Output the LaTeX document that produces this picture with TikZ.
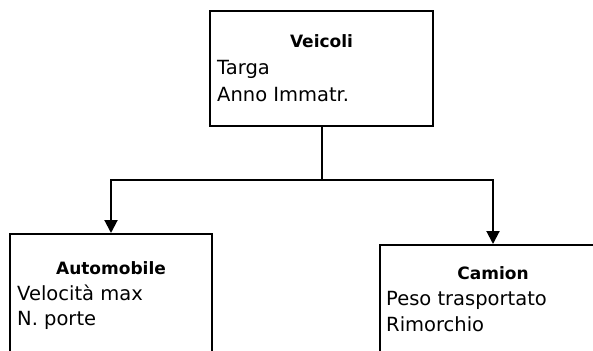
\documentclass[tikz,border=0pt]{standalone}
\usepackage{fontspec}
\setmainfont{DejaVu Sans}
\usetikzlibrary{arrows.meta}
\tikzset{
  box/.style={draw, line width=2pt, rectangle, inner sep=0pt, anchor=north west},
  title/.style={font=\fontsize{17}{20}\selectfont\bfseries, anchor=base, inner sep=0pt},
  attr/.style={font=\fontsize{19.5}{22}\selectfont, anchor=base west, inner sep=0pt},
  conn/.style={line width=2pt},
  arr/.style={conn, -{Triangle[width=13pt,length=13pt]}}
}
\begin{document}
\begin{tikzpicture}[x=1pt,y=-1pt]
\useasboundingbox (0,0) rectangle (593,350);
\clip (0,0) rectangle (593,350);
\node[box, minimum width=223pt, minimum height=115pt] (veicoli) at (209,10) {};
\node[box, minimum width=202pt, minimum height=130pt] (auto) at (9,233) {};
\node[box, minimum width=226pt, minimum height=130pt] (camion) at (379,244) {};
\node[title] (tv) at (veicoli.north |- 0,48) {Veicoli};
\node[attr] (t1) at (217,75) {Targa};
\node[attr] (t2) at (217,102) {Anno Immatr.};
\node[title] (ta) at (auto.north |- 0,274) {Automobile};
\node[attr] (a1) at (17,300) {Velocità max};
\node[attr] (a2) at (17,325) {N. porte};
\node[title] (tc) at (camion.north |- 0,279) {Camion};
\node[attr] (c1) at (386,305) {Peso trasportato};
\node[attr] (c2) at (386,331) {Rimorchio};
\coordinate (j) at (veicoli.south |- 0,180);
\draw[conn] (veicoli.south) -- (j);
\draw[arr] (j) -| (auto.north);
\draw[arr] (j) -| (camion.north);
\end{tikzpicture}
\end{document}
